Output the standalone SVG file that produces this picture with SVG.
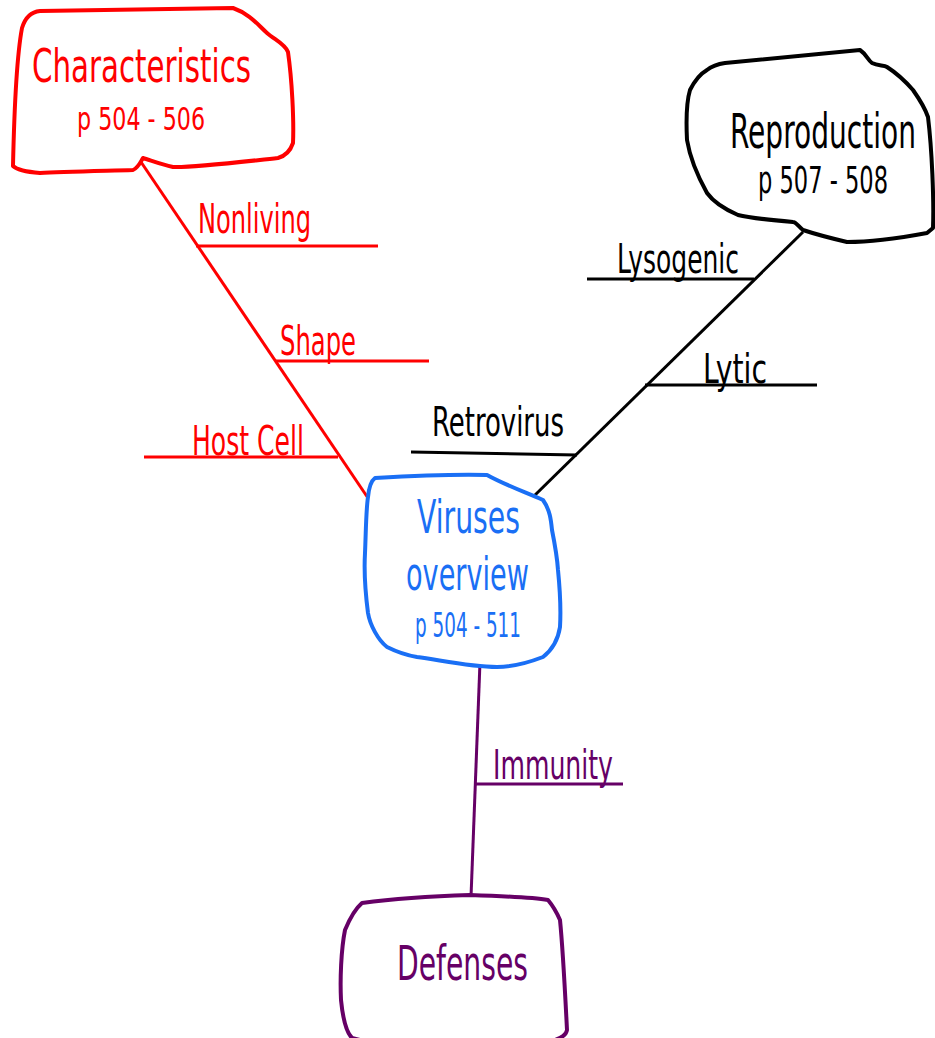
<svg xmlns="http://www.w3.org/2000/svg" width="935" height="1038" viewBox="0 0 935 1038">
<style>
text{font-family:"DejaVu Sans Condensed","Liberation Sans","DejaVu Sans",sans-serif;}
.box{fill:#ffffff;stroke-width:4;stroke-linejoin:round;stroke-linecap:round;}
.ln{fill:none;stroke-width:3;stroke-linecap:butt;}
.red{stroke:#ff0000;}
.blk{stroke:#000000;}
.blu{stroke:#1a6ff5;}
.pur{stroke:#660066;}
.tred{fill:#ff0000;}
.tblk{fill:#000000;}
.tblu{fill:#1a6ff5;}
.tpur{fill:#660066;}
.lbl{font-size:40px;}
</style>
<rect width="935" height="1038" fill="#ffffff"/>
<g id="connectors">
<line class="ln red" x1="141" y1="162" x2="368" y2="498"/>
<line class="ln red" x1="196" y1="246" x2="378" y2="246"/>
<line class="ln red" x1="276" y1="361" x2="429" y2="361"/>
<line class="ln red" x1="144" y1="457" x2="338" y2="457"/>
<text class="tred lbl" x="198" y="233" textLength="113" lengthAdjust="spacingAndGlyphs">Nonliving</text>
<text class="tred lbl" x="280" y="355" textLength="76" lengthAdjust="spacingAndGlyphs">Shape</text>
<text class="tred lbl" x="192" y="455" textLength="112" lengthAdjust="spacingAndGlyphs">Host Cell</text>
<line class="ln blk" x1="803" y1="232" x2="533" y2="497"/>
<line class="ln blk" x1="587" y1="279" x2="754" y2="279"/>
<line class="ln blk" x1="645" y1="385" x2="817" y2="385"/>
<line class="ln blk" x1="411" y1="452" x2="577" y2="455"/>
<text class="tblk lbl" x="617" y="273" textLength="122" lengthAdjust="spacingAndGlyphs">Lysogenic</text>
<text class="tblk lbl" x="703" y="383" textLength="64" lengthAdjust="spacingAndGlyphs">Lytic</text>
<text class="tblk lbl" x="432" y="436" textLength="132" lengthAdjust="spacingAndGlyphs">Retrovirus</text>
<line class="ln pur" x1="480" y1="662" x2="471" y2="897"/>
<line class="ln pur" x1="475" y1="784" x2="623" y2="784"/>
<text class="tpur lbl" x="493" y="779" textLength="120" lengthAdjust="spacingAndGlyphs">Immunity</text>
</g>
<g id="characteristics">
<path class="box red" d="M 40,173 C 28,172 17,170 13,166 C 14,120 16,60 22,28 C 25,18 30,12 40,11 L 233,8 C 250,14 258,25 267,33 C 275,40 285,44 288,52 C 292,80 294,120 293,143 C 290,152 285,156 278,158 C 240,162 190,168 173,167 C 160,164 150,160 143,158 C 140,163 138,168 133,170 C 100,171 60,172 40,173 Z"/>
<text class="tred" x="32" y="82" font-size="46" textLength="219" lengthAdjust="spacingAndGlyphs">Characteristics</text>
<text class="tred" x="77" y="130" font-size="32" textLength="128" lengthAdjust="spacingAndGlyphs">p 504 - 506</text>
</g>
<g id="reproduction">
<path class="box blk" d="M 707,70 C 712,66 718,64 725,63 L 860,50 C 866,54 868,60 872,63 C 878,66 884,65 887,67 C 898,74 906,82 913,90 C 920,100 925,108 928,117 C 932,150 934,200 933,228 L 927,233 C 900,238 870,242 847,242 C 830,238 815,234 803,230 C 798,226 796,222 793,222 C 770,220 750,218 738,215 C 722,208 712,200 707,193 C 697,175 690,158 687,140 C 686,120 687,100 690,90 C 695,80 700,74 707,70 Z"/>
<text class="tblk" x="730" y="148" font-size="48" textLength="186" lengthAdjust="spacingAndGlyphs">Reproduction</text>
<text class="tblk" x="758" y="193" font-size="38" textLength="130" lengthAdjust="spacingAndGlyphs">p 507 - 508</text>
</g>
<g id="viruses">
<path class="box blu" d="M 375,478 C 410,476 450,474 487,475 C 505,485 525,492 543,500 C 550,510 551,520 552,530 C 555,545 557,555 558,570 C 560,590 561,610 560,627 C 558,640 552,650 543,657 C 530,662 515,667 497,667 C 470,667 440,660 417,657 C 405,655 395,651 387,647 C 378,640 370,625 368,613 C 365,590 364,570 365,553 C 366,530 366,510 368,497 C 369,487 371,481 375,478 Z"/>
<text class="tblu" x="417" y="533" font-size="46" textLength="103" lengthAdjust="spacingAndGlyphs">Viruses</text>
<text class="tblu" x="406" y="590" font-size="46" textLength="123" lengthAdjust="spacingAndGlyphs">overview</text>
<text class="tblu" x="415" y="637" font-size="33" textLength="106" lengthAdjust="spacingAndGlyphs">p 504 - 511</text>
</g>
<g id="defenses">
<path class="box pur" d="M 352,1038 C 346,1032 343,1020 341,1000 C 340,980 341,950 345,930 C 350,918 355,909 362,903 C 400,898 440,896 470,895 C 500,896 530,897 548,900 C 553,906 557,913 560,920 C 563,950 565,990 567,1030 C 566,1036 560,1038 555,1040 L 360,1040 Z"/>
<text class="tpur" x="397" y="980" font-size="48" textLength="131" lengthAdjust="spacingAndGlyphs">Defenses</text>
</g>
</svg>
